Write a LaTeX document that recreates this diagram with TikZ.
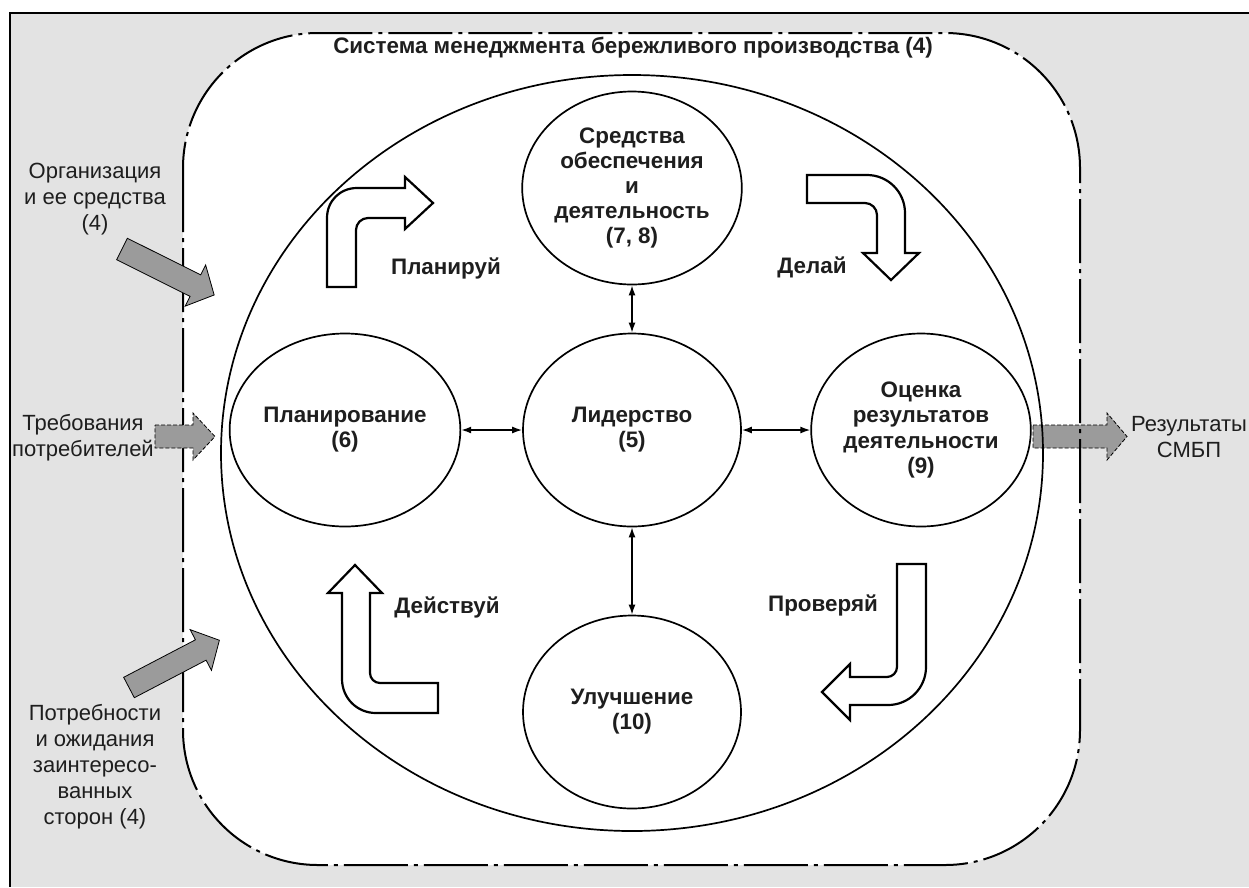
\documentclass[tikz,border=0pt]{standalone}
\usepackage{fontspec}
\setmainfont{Liberation Sans}
\usetikzlibrary{arrows.meta,shapes.geometric}

\definecolor{bggray}{RGB}{227,227,227}
\definecolor{arrowgray}{RGB}{155,155,155}
\definecolor{txtgray}{RGB}{30,30,30}

\tikzset{
  stage/.style={draw,line width=1.7pt,ellipse,fill=white,minimum width=218pt,minimum height=193pt,inner sep=0pt,align=center,font=\fontsize{22.4}{25.2}\selectfont\bfseries,text=txtgray},
  inlabel/.style={align=center,inner sep=0pt,font=\fontsize{22}{26}\selectfont,text=txtgray},
  cyclabel/.style={inner sep=0pt,font=\fontsize{22.4}{25}\selectfont\bfseries,text=txtgray},
  link/.style={line width=1.5pt,{Latex[length=10pt,width=7pt]}-{Latex[length=10pt,width=7pt]}},
  bent/.style={draw,line width=2.2pt,fill=white,line join=miter},
  feed/.style={draw,line width=0.8pt,fill=arrowgray},
  feeddash/.style={feed,dash pattern=on 4pt off 2pt},
  border/.style={line width=2pt,dash pattern=on 64pt off 6pt on 4pt off 6pt},
}

\begin{document}
\begin{tikzpicture}[x=1pt,y=-1pt]
\useasboundingbox (0,0) rectangle (1249,887);

% background and frame
\fill[bggray] (10,13) rectangle (1249,887);
\draw[line width=2pt] (1249,13) -- (10,13) -- (10,887);

% system boundary (fill)
\fill[white,rounded corners=135pt] (183,33) rectangle (1080,865);

% output arrow, under the boundary
\draw[feeddash] (1033,425) -- (1107,425) -- (1107,413) -- (1127,436.5) -- (1107,460) -- (1107,448) -- (1033,448) -- cycle;

% system boundary and cycle
\draw[border,rounded corners=135pt] (183,33) rectangle (1080,865);
\draw[line width=1.7pt] (632,453) ellipse [x radius=411, y radius=378];

% input arrows
\begin{scope}[shift={(122,249)},rotate=-26.5]
\draw[feed] (0,-12) -- (82,-12) -- (82,-23) -- (103,0) -- (82,23) -- (82,12) -- (0,12) -- cycle;
\end{scope}
\draw[feeddash] (155,425) -- (193,425) -- (193,413) -- (215,436.5) -- (193,460) -- (193,448) -- (155,448) -- cycle;
\begin{scope}[shift={(129,687.5)},rotate=27.6]
\draw[feed] (0,-11.5) -- (81,-11.5) -- (81,-23) -- (102,0) -- (81,23) -- (81,11.5) -- (0,11.5) -- cycle;
\end{scope}

% Text Node
\node[cyclabel] (title) at (633,48) {Система менеджмента бережливого производства (4)};
\node[inlabel] (orgin) at (95,199) {Организация\\и ее средства\\(4)};
\node[inlabel] (custin) at (83,437.5) {Требования\\потребителей};
\node[inlabel] (partyin) at (95,767) {Потребности\\и ожидания\\заинтересо-\\ванных\\сторон (4)};
\node[inlabel] (resout) at (1189,437.5) {Результаты\\СМБП};

% stages
\node[stage] (plan) at (345,430) {Планирование\\(6)};
\node[stage] (lead) at (632,430) {Лидерство\\(5)};
\node[stage] (eval) at (921,430) {Оценка\\результатов\\деятельности\\(9)};
\node[stage] (supp) at (632,188) {Средства\\обеспечения\\и\\деятельность\\(7, 8)};
\node[stage] (impr) at (632,712) {Улучшение\\(10)};

\draw[link] (plan) -- (lead);
\draw[link] (lead) -- (eval);
\draw[link] (supp) -- (lead);
\draw[link] (lead) -- (impr);

% cycle arrows
\draw[bent] (327,287) -- (327,218) .. controls (327,201) and (340,188) .. (357,188) -- (405,188) -- (405,177) -- (433,203) -- (405,229) -- (405,218) -- (368,218) .. controls (361.4,218) and (356,223.4) .. (356,230) -- (356,287) -- cycle;
\draw[bent] (807,175) -- (867,175) .. controls (888,175) and (905,192) .. (905,213) -- (905,253) -- (919,253) -- (891,280) -- (863,253) -- (877,253) -- (877,215) .. controls (877,208.4) and (871.6,203) .. (865,203) -- (807,203) -- cycle;
\draw[bent] (897,564) -- (926,564) -- (926,667) .. controls (926,688) and (909,705) .. (888,705) -- (850,705) -- (850,720) -- (822,692) -- (850,664) -- (850,677) -- (887,677) .. controls (892.5,677) and (897,672.5) .. (897,667) -- cycle;
\draw[bent] (438,713) -- (376,713) .. controls (357,713) and (342,698) .. (342,679) -- (342,593) -- (328,593) -- (355,565) -- (382,593) -- (370,593) -- (370,673) .. controls (370,678.5) and (374.5,683) .. (380,683) -- (438,683) -- cycle;

\node[cyclabel] (plantxt) at (446,268) {Планируй};
\node[cyclabel] (dotxt) at (812,267) {Делай};
\node[cyclabel] (acttxt) at (447,607) {Действуй};
\node[cyclabel] (checktxt) at (823,605) {Проверяй};

\end{tikzpicture}
\end{document}
